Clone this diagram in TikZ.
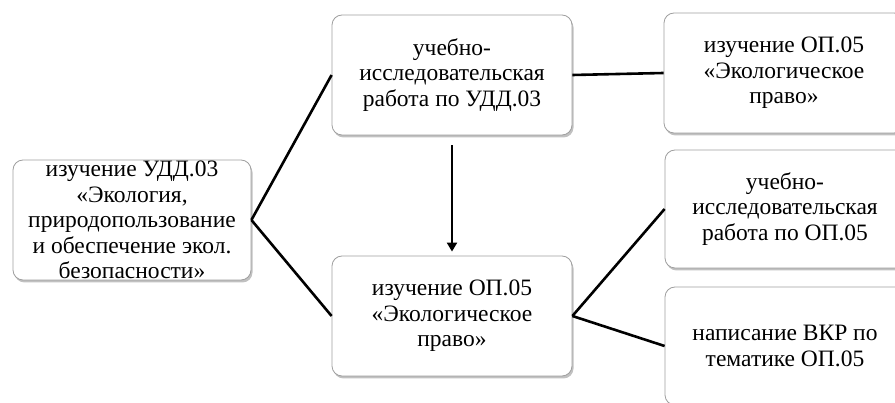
\documentclass[tikz,border=0pt]{standalone}
\usepackage{fontspec}
\setmainfont{Liberation Serif}
\usetikzlibrary{shadows,arrows.meta}
\begin{document}
\begin{tikzpicture}[x=1pt,y=-1pt,
  box/.style={draw=gray!75, line width=0.8pt, fill=white, rounded corners=10pt,
    minimum width=240pt, minimum height=120pt, align=center, inner sep=1pt,
    font=\fontsize{23.5}{25.5}\selectfont,
    drop shadow={shadow xshift=1.5pt, shadow yshift=-2.5pt, fill=gray!70, opacity=0.7}},
  conn/.style={line width=2.6pt, black}]
\useasboundingbox (0,0) rectangle (895,403);
\node[box, minimum width=238pt, minimum height=120pt] (A) at (132,220) {изучение УДД.03\\«Экология,\\природопользование\\и обеспечение экол.\\безопасности»};
\node[box] (B) at (452,75) {учебно-\\исследовательская\\работа по УДД.03};
\node[box] (C) at (784,73) {изучение ОП.05\\«Экологическое\\право»};
\node[box] (D) at (452,316) {изучение ОП.05\\«Экологическое\\право»};
\node[box, minimum height=118pt] (E) at (785,209) {учебно-\\исследовательская\\работа по ОП.05};
\node[box, minimum height=118pt] (F) at (785,346) {написание ВКР по\\тематике ОП.05};
\draw[conn] (A.east) -- (B.west);
\draw[conn] (A.east) -- (D.west);
\draw[conn] (B.east) -- (C.west);
\draw[conn] (D.east) -- (E.west);
\draw[conn] (D.east) -- (F.west);
\draw[conn, line width=2.2pt, -{Triangle[length=9pt,width=10pt]}, shorten <=10pt, shorten >=4pt] (B.south) -- (D.north);
\end{tikzpicture}
\end{document}
